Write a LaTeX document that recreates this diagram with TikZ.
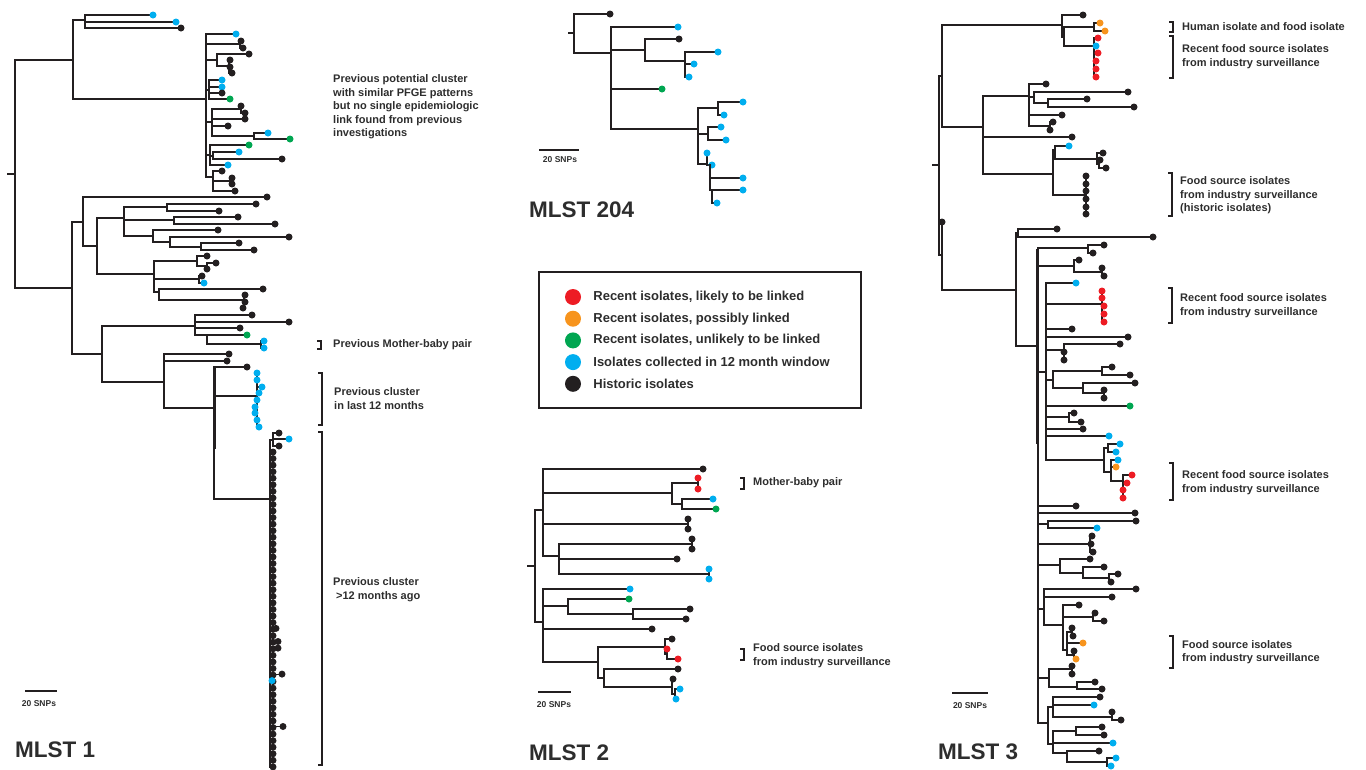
\documentclass[tikz,border=0pt]{standalone}
\usepackage{fontspec}
\setmainfont{Liberation Sans}
\usetikzlibrary{positioning}
\definecolor{Ink}{RGB}{35,31,32}
\definecolor{TextInk}{RGB}{45,45,45}
\definecolor{tRed}{RGB}{237,28,36}
\definecolor{tOrange}{RGB}{247,148,29}
\definecolor{tGreen}{RGB}{0,166,81}
\definecolor{tBlue}{RGB}{0,174,239}
\definecolor{tBlack}{RGB}{35,31,32}
\tikzset{
  branch/.style={draw=Ink, line width=1.1pt, line cap=rect},
  brack/.style={draw=Ink, line width=1.2pt},
  sbar/.style={draw=Ink, line width=2.4pt},
  note/.style={font=\bfseries\fontsize{11}{13.5}\selectfont, text=TextInk, align=left, anchor=west, inner sep=0pt},
  treetitle/.style={font=\bfseries\fontsize{22.5}{24}\selectfont, text=TextInk, anchor=west, inner sep=0pt},
  sbarlab/.style={font=\bfseries\fontsize{8.5}{9}\selectfont, text=TextInk, inner sep=0pt},
  keydot/.style={circle, minimum size=16pt, inner sep=0pt},
  keylab/.style={font=\bfseries\fontsize{13}{15}\selectfont, text=TextInk, anchor=west, inner sep=0pt},
}
% branch helpers: horizontal, vertical, branch ending in an isolate
\newcommand{\hbr}[3]{\draw[branch] (#1,#3) -- (#2,#3);}
\newcommand{\vbr}[3]{\draw[branch] (#1,#2) -- (#1,#3);}
\newcommand{\leaf}[4]{\draw[branch] (#1,#3) -- (#2,#3); \fill[#4] (#2,#3) circle[radius=3.5pt];}
\newcommand{\clbracket}[3]{\draw[brack] (#1-4,#2) -- (#1,#2) -- (#1,#3) -- (#1-4,#3);}

\begin{document}
\begin{tikzpicture}[x=1pt,y=-1pt]
\useasboundingbox (0,0) rectangle (1366,769);

% ---------------- MLST 1 ----------------
\hbr{8}{15}{174}\vbr{15}{60}{288}
\hbr{15}{73}{60}\vbr{73}{20}{99}
\hbr{73}{85}{20}\vbr{85}{15}{28}
\leaf{85}{153}{15}{tBlue}\leaf{85}{176}{22}{tBlue}\leaf{85}{181}{28}{tBlack}
% upper cluster
\hbr{73}{206}{99}\vbr{206}{34}{177}
\leaf{206}{236}{34}{tBlue}
\hbr{206}{240}{44}\vbr{240}{41}{48}\leaf{240}{241}{41}{tBlack}\leaf{240}{243}{48}{tBlack}
\hbr{206}{217}{60}\vbr{217}{54}{66}\leaf{217}{249}{54}{tBlack}
\hbr{217}{229}{66}\vbr{229}{60}{73}\leaf{229}{230}{60}{tBlack}\leaf{229}{230}{67}{tBlack}\leaf{229}{232}{73}{tBlack}
\hbr{206}{209}{90}\vbr{209}{80}{99}
\leaf{209}{222}{80}{tBlue}\leaf{209}{222}{87}{tBlue}\leaf{209}{222}{93}{tBlack}\leaf{209}{230}{99}{tGreen}
\hbr{206}{212}{122}\vbr{212}{109}{136}
\hbr{212}{241}{109}\vbr{241}{106}{113}\leaf{241}{241}{106}{tBlack}\leaf{241}{245}{113}{tBlack}
\leaf{212}{245}{119}{tBlack}\leaf{212}{228}{126}{tBlack}
\hbr{212}{254}{136}\vbr{254}{133}{139}\leaf{254}{268}{133}{tBlue}\leaf{254}{290}{139}{tGreen}
\hbr{206}{210}{155}\vbr{210}{145}{165}\leaf{210}{249}{145}{tGreen}
\hbr{210}{213}{156}\vbr{213}{152}{159}\leaf{213}{239}{152}{tBlue}\leaf{213}{282}{159}{tBlack}
\leaf{210}{228}{165}{tBlue}
\hbr{206}{213}{177}\vbr{213}{171}{191}\leaf{213}{222}{171}{tBlack}
\hbr{213}{230}{181}\vbr{230}{178}{184}\leaf{230}{232}{178}{tBlack}\leaf{230}{232}{184}{tBlack}
\leaf{213}{235}{191}{tBlack}
% lower part
\hbr{15}{72}{288}\vbr{72}{222}{354}
\hbr{72}{83}{222}\vbr{83}{197}{246}
\leaf{83}{267}{197}{tBlack}
\hbr{83}{97}{246}\vbr{97}{218}{274}
\hbr{97}{124}{218}\vbr{124}{207}{236}
\hbr{124}{167}{207}\vbr{167}{204}{211}\leaf{167}{256}{204}{tBlack}\leaf{167}{219}{211}{tBlack}
\hbr{124}{174}{220}\vbr{174}{217}{224}\leaf{174}{238}{217}{tBlack}\leaf{174}{275}{224}{tBlack}
\hbr{124}{153}{236}\vbr{153}{230}{242}\leaf{153}{218}{230}{tBlack}
\hbr{153}{170}{242}\vbr{170}{237}{247}\leaf{170}{289}{237}{tBlack}
\hbr{170}{201}{247}\vbr{201}{243}{250}\leaf{201}{239}{243}{tBlack}\leaf{201}{254}{250}{tBlack}
\hbr{97}{154}{274}\vbr{154}{261}{292}
\hbr{154}{197}{261}\vbr{197}{256}{266}\leaf{197}{207}{256}{tBlack}
\hbr{197}{207}{266}\vbr{207}{263}{269}\leaf{207}{216}{263}{tBlack}\leaf{207}{207}{269}{tBlack}
\hbr{154}{199}{279}\vbr{199}{276}{283}\leaf{199}{202}{276}{tBlack}\leaf{199}{204}{283}{tBlue}
\hbr{154}{159}{292}\vbr{159}{289}{300}\leaf{159}{263}{289}{tBlack}
\hbr{159}{244}{300}\vbr{244}{295}{308}\leaf{244}{245}{295}{tBlack}\leaf{244}{245}{302}{tBlack}\leaf{244}{243}{308}{tBlack}
\hbr{72}{102}{354}\vbr{102}{326}{382}
\hbr{102}{195}{326}\vbr{195}{315}{335}
\leaf{195}{252}{315}{tBlack}\leaf{195}{289}{322}{tBlack}\leaf{195}{240}{328}{tBlack}
\hbr{195}{207}{335}\vbr{207}{335}{344}\leaf{207}{247}{335}{tGreen}
\hbr{207}{261}{344}\vbr{261}{341}{348}\leaf{261}{264}{341}{tBlue}\leaf{261}{264}{348}{tBlue}
\hbr{102}{164}{382}\vbr{164}{354}{408}
\leaf{164}{229}{354}{tBlack}\leaf{164}{227}{361}{tBlack}
\hbr{164}{214}{408}\vbr{214}{367}{499}\vbr{215.3}{367}{448}
\leaf{214}{247}{367}{tBlack}
\hbr{214}{257}{396}\vbr{257}{373}{427}
\foreach \xx/\yy in {257/373,257/380,262/387,259/393,257/400,255/407,255/413,257/420,259/427}
  {\leaf{257}{\xx}{\yy}{tBlue}}
% big cluster
\hbr{214}{270}{499}\vbr{270}{440}{767}
\hbr{270}{273}{440}\vbr{273}{433}{446}
\leaf{273}{279}{433}{tBlack}\leaf{273}{289}{439}{tBlue}\leaf{273}{279}{446}{tBlack}
\foreach \k in {0,...,48}{
  \pgfmathsetmacro\yy{452+6.56*\k}
  \leaf{270}{273}{\yy}{tBlack}
}
\leaf{270}{276}{628.4}{tBlack}\leaf{270}{278}{641.5}{tBlack}\leaf{270}{278}{648.1}{tBlack}
\leaf{270}{282}{674.1}{tBlack}\leaf{270}{272}{680.6}{tBlue}\leaf{270}{283}{726.5}{tBlack}
% labels
\clbracket{321}{341}{349}
\clbracket{322}{373}{425}
\clbracket{322}{432}{765}
\node[note] (potclus) at (333,107) {Previous potential cluster\\with similar PFGE patterns\\but no single epidemiologic\\link found from previous\\investigations};
\node[note] (mbpair1) at (333,345) {Previous Mother-baby pair};
\node[note] (clus12) at (334,398.5) {Previous cluster\\in last 12 months};
\node[note] (clusold) at (333,589.5) {Previous cluster\\\hspace*{3pt}>12 months ago};
\draw[sbar] (25,691) -- (57,691);
\node[sbarlab] (sb1) at (39,704) {20 SNPs};
\node[treetitle] (t1) at (15,750) {MLST 1};

% ---------------- MLST 204 ----------------
\hbr{569}{574}{33}\vbr{574}{14}{53}
\leaf{574}{610}{14}{tBlack}
\hbr{574}{611}{53}\vbr{611}{27}{129}
\leaf{611}{678}{27}{tBlue}
\hbr{611}{645}{50}\vbr{645}{39}{61}\leaf{645}{679}{39}{tBlack}
\hbr{645}{685}{61}\vbr{685}{52}{77}\leaf{685}{718}{52}{tBlue}\leaf{685}{694}{64}{tBlue}\leaf{685}{689}{77}{tBlue}
\leaf{611}{662}{89}{tGreen}
\hbr{611}{698}{129}\vbr{698}{108}{164}
\hbr{698}{718}{108}\vbr{718}{102}{115}\leaf{718}{743}{102}{tBlue}\leaf{718}{724}{115}{tBlue}
\hbr{698}{708}{134}\vbr{708}{127}{140}\leaf{708}{721}{127}{tBlue}\leaf{708}{726}{140}{tBlue}
\hbr{698}{707}{164}\vbr{707}{153}{165}\leaf{707}{707}{153}{tBlue}\leaf{707}{712}{165}{tBlue}
\vbr{710}{165}{190}\leaf{710}{743}{178}{tBlue}
\hbr{710}{712}{190}\vbr{712}{190}{203}\leaf{712}{743}{190}{tBlue}\leaf{712}{717}{203}{tBlue}
\draw[sbar] (539,150) -- (579,150);
\node[sbarlab] (sb204) at (560,160) {20 SNPs};
\node[treetitle] (t204) at (529,210) {MLST 204};

% ---------------- legend ----------------
\node[draw=Ink, line width=2pt, minimum width=322pt, minimum height=136pt] (keybox) at (700,340) {};
\node[keydot, fill=tRed] (kred) at (573,297) {};
\node[keydot, fill=tOrange, below=5.3pt of kred] (korange) {};
\node[keydot, fill=tGreen, below=5.3pt of korange] (kgreen) {};
\node[keydot, fill=tBlue, below=5.3pt of kgreen] (kblue) {};
\node[keydot, fill=tBlack, below=5.3pt of kblue] (kblack) {};
\node[keylab, right=12pt of kred] (lred) {Recent isolates, likely to be linked};
\node[keylab, right=12pt of korange] (lorange) {Recent isolates, possibly linked};
\node[keylab, right=12pt of kgreen] (lgreen) {Recent isolates, unlikely to be linked};
\node[keylab, right=12pt of kblue] (lblue) {Isolates collected in 12 month window};
\node[keylab, right=12pt of kblack] (lblack) {Historic isolates};

% ---------------- MLST 2 ----------------
\hbr{528}{535}{566}\vbr{535}{510}{622}
\hbr{535}{543}{510}\vbr{543}{469}{556}
\leaf{543}{703}{469}{tBlack}
\hbr{543}{672}{493}\vbr{672}{483}{504}
\hbr{672}{698}{483}\vbr{698}{478}{489}\leaf{698}{698}{478}{tRed}\leaf{698}{698}{489}{tRed}
\hbr{672}{682}{504}\vbr{682}{499}{509}\leaf{682}{713}{499}{tBlue}\leaf{682}{716}{509}{tGreen}
\hbr{543}{688}{524}\vbr{688}{519}{529}\leaf{688}{688}{519}{tBlack}\leaf{688}{688}{529}{tBlack}
\hbr{543}{559}{556}\vbr{559}{544}{574}
\hbr{559}{692}{544}\vbr{692}{539}{549}\leaf{692}{692}{539}{tBlack}\leaf{692}{692}{549}{tBlack}
\leaf{559}{677}{559}{tBlack}
\hbr{559}{709}{574}\vbr{709}{569}{579}\leaf{709}{709}{569}{tBlue}\leaf{709}{709}{579}{tBlue}
\hbr{535}{543}{622}\vbr{543}{589}{662}
\leaf{543}{630}{589}{tBlue}
\hbr{543}{568}{606}\vbr{568}{599}{614}\leaf{568}{629}{599}{tGreen}
\hbr{568}{633}{614}\vbr{633}{609}{619}\leaf{633}{690}{609}{tBlack}\leaf{633}{686}{619}{tBlack}
\leaf{543}{652}{629}{tBlack}
\hbr{543}{598}{662}\vbr{598}{647}{678}
\hbr{598}{665}{647}\vbr{665}{639}{654}\leaf{665}{672}{639}{tBlack}
\hbr{665}{667}{654}\vbr{667}{649}{659}\leaf{667}{667}{649}{tRed}\leaf{667}{678}{659}{tRed}
\hbr{598}{604}{678}\vbr{604}{669}{687}\leaf{604}{678}{669}{tBlack}
\hbr{604}{672}{687}\vbr{672}{679}{694}\leaf{672}{673}{679}{tBlack}
\hbr{672}{675}{694}\vbr{675}{689}{699}\leaf{675}{680}{689}{tBlue}\leaf{675}{676}{699}{tBlue}
\clbracket{744}{478}{489}
\clbracket{744}{649}{660}
\node[note] (mbpair2) at (753,483) {Mother-baby pair};
\node[note] (food2) at (753,655.5) {Food source isolates\\from industry surveillance};
\draw[sbar] (538,692) -- (571,692);
\node[sbarlab] (sb2) at (554,705) {20 SNPs};
\node[treetitle] (t2) at (529,753) {MLST 2};

% ---------------- MLST 3 ----------------
\hbr{933}{939}{165}\vbr{939}{76}{255}
\hbr{939}{942}{76}\vbr{942}{25}{127}
\hbr{939}{942}{255}\vbr{942}{222}{290}\leaf{942}{942}{222}{tBlack}
% top clade
\hbr{942}{1062}{25}\vbr{1062}{15}{37}\leaf{1062}{1083}{15}{tBlack}
\hbr{1062}{1064}{37}\vbr{1064}{27}{46}
\hbr{1064}{1094}{27}\vbr{1094}{23}{31}\leaf{1094}{1100}{23}{tOrange}\leaf{1094}{1105}{31}{tOrange}
\hbr{1064}{1094}{46}\vbr{1094}{38}{77}
\leaf{1094}{1098}{38}{tRed}\leaf{1094}{1096}{46}{tBlue}\leaf{1094}{1098}{53}{tRed}
\leaf{1094}{1096}{61}{tRed}\leaf{1094}{1096}{69}{tRed}\leaf{1094}{1096}{77}{tRed}
% second clade
\hbr{942}{983}{127}\vbr{983}{96}{174}
\hbr{983}{1029}{96}\vbr{1029}{84}{126}
\leaf{1029}{1046}{84}{tBlack}
\hbr{1029}{1034}{97}\vbr{1034}{92}{103}\leaf{1034}{1128}{92}{tBlack}
\hbr{1034}{1048}{103}\vbr{1048}{99}{107}\leaf{1048}{1087}{99}{tBlack}\leaf{1048}{1134}{107}{tBlack}
\leaf{1029}{1062}{115}{tBlack}
\hbr{1029}{1050}{126}\vbr{1050}{122}{130}\leaf{1050}{1053}{122}{tBlack}\leaf{1050}{1050}{130}{tBlack}
\leaf{983}{1072}{137}{tBlack}
\hbr{983}{1053}{174}\vbr{1053}{150}{195}
\hbr{1053}{1055}{150}\vbr{1055}{146}{159}\leaf{1055}{1069}{146}{tBlue}
\hbr{1055}{1097}{159}\vbr{1097}{153}{164}\leaf{1097}{1103}{153}{tBlack}
\hbr{1097}{1099}{164}\vbr{1099}{160}{168}\leaf{1099}{1100}{160}{tBlack}\leaf{1099}{1106}{168}{tBlack}
\hbr{1053}{1086}{195}\vbr{1086}{176}{214}
\foreach \yy in {176,184,191,199,207,214}{\leaf{1086}{1086}{\yy}{tBlack}}
% lower clade
\hbr{942}{1016}{290}\vbr{1016}{233}{346}
\hbr{1016}{1018}{233}\vbr{1018}{229}{237}\leaf{1018}{1057}{229}{tBlack}\leaf{1018}{1153}{237}{tBlack}
\hbr{1016}{1038}{346}\vbr{1038}{248}{723}\vbr{1036.8}{250}{443}
\hbr{1038}{1088}{248}\vbr{1088}{245}{253}\leaf{1088}{1104}{245}{tBlack}\leaf{1088}{1093}{253}{tBlack}
\hbr{1038}{1074}{266}\vbr{1074}{260}{272}\leaf{1074}{1079}{260}{tBlack}
\hbr{1074}{1102}{272}\vbr{1102}{268}{276}\leaf{1102}{1102}{268}{tBlack}\leaf{1102}{1104}{276}{tBlack}
\hbr{1038}{1046}{372}\vbr{1046}{283}{460}
\leaf{1046}{1076}{283}{tBlue}
\hbr{1046}{1102}{304}\vbr{1102}{291}{322}
\leaf{1102}{1102}{291}{tRed}\leaf{1102}{1102}{298}{tRed}\leaf{1102}{1104}{306}{tRed}\leaf{1102}{1104}{314}{tRed}\leaf{1102}{1104}{322}{tRed}
\leaf{1046}{1072}{329}{tBlack}
\leaf{1046}{1128}{337}{tBlack}
\hbr{1046}{1064}{350}\vbr{1064}{344}{360}\leaf{1064}{1120}{344}{tBlack}\leaf{1064}{1064}{352}{tBlack}\leaf{1064}{1064}{360}{tBlack}
\hbr{1046}{1053}{380}\vbr{1053}{371}{388}
\hbr{1053}{1102}{371}\vbr{1102}{367}{375}\leaf{1102}{1112}{367}{tBlack}\leaf{1102}{1130}{375}{tBlack}
\hbr{1053}{1083}{388}\vbr{1083}{383}{393}\leaf{1083}{1135}{383}{tBlack}
\hbr{1083}{1104}{393}\vbr{1104}{390}{398}\leaf{1104}{1104}{390}{tBlack}\leaf{1104}{1104}{398}{tBlack}
\leaf{1046}{1130}{406}{tGreen}
\hbr{1046}{1069}{417}\vbr{1069}{413}{422}\leaf{1069}{1074}{413}{tBlack}\leaf{1069}{1081}{422}{tBlack}
\leaf{1046}{1083}{429}{tBlack}
\leaf{1046}{1109}{436}{tBlue}
\hbr{1046}{1104}{460}\vbr{1104}{448}{472}
\hbr{1104}{1108}{448}\vbr{1108}{444}{452}\leaf{1108}{1120}{444}{tBlue}\leaf{1108}{1116}{452}{tBlue}
\hbr{1104}{1111}{472}\vbr{1111}{460}{481}\leaf{1111}{1118}{460}{tBlue}\leaf{1111}{1116}{467}{tOrange}
\hbr{1111}{1123}{481}\vbr{1123}{475}{498}
\leaf{1123}{1132}{475}{tRed}\leaf{1123}{1127}{483}{tRed}\leaf{1123}{1123}{490}{tRed}\leaf{1123}{1123}{498}{tRed}
\leaf{1038}{1076}{506}{tBlack}
\leaf{1038}{1135}{513}{tBlack}
\hbr{1038}{1048}{524}\vbr{1048}{521}{528}\leaf{1048}{1136}{521}{tBlack}\leaf{1048}{1097}{528}{tBlue}
\hbr{1038}{1090}{544}\vbr{1090}{536}{552}\leaf{1090}{1092}{536}{tBlack}\leaf{1090}{1091}{544}{tBlack}\leaf{1090}{1093}{552}{tBlack}
\hbr{1038}{1060}{565}\vbr{1060}{559}{573}\leaf{1060}{1090}{559}{tBlack}
\hbr{1060}{1083}{573}\vbr{1083}{567}{578}\leaf{1083}{1104}{567}{tBlack}
\hbr{1083}{1109}{578}\vbr{1109}{574}{582}\leaf{1109}{1118}{574}{tBlack}\leaf{1109}{1111}{582}{tBlack}
\hbr{1038}{1044}{609}\vbr{1044}{589}{625}
\leaf{1044}{1136}{589}{tBlack}\leaf{1044}{1112}{597}{tBlack}
\hbr{1044}{1063}{625}\vbr{1063}{605}{650}
\leaf{1063}{1079}{605}{tBlack}
\hbr{1063}{1093}{617}\vbr{1093}{613}{621}\leaf{1093}{1095}{613}{tBlack}\leaf{1093}{1104}{621}{tBlack}
\hbr{1063}{1067}{650}\vbr{1067}{632}{655}
\hbr{1067}{1072}{632}\vbr{1072}{628}{636}\leaf{1072}{1072}{628}{tBlack}\leaf{1072}{1073}{636}{tBlack}
\leaf{1067}{1083}{643}{tOrange}
\hbr{1067}{1074}{655}\vbr{1074}{651}{659}\leaf{1074}{1074}{651}{tBlack}\leaf{1074}{1076}{659}{tOrange}
\hbr{1038}{1049}{678}\vbr{1049}{669}{687}
\hbr{1049}{1072}{669}\vbr{1072}{666}{674}\leaf{1072}{1072}{666}{tBlack}\leaf{1072}{1072}{674}{tBlack}
\hbr{1049}{1077}{687}\vbr{1077}{682}{689}\leaf{1077}{1095}{682}{tBlack}\leaf{1077}{1102}{689}{tBlack}
\hbr{1038}{1048}{723}\vbr{1048}{707}{744}
\hbr{1048}{1053}{707}\vbr{1053}{697}{717}\leaf{1053}{1100}{697}{tBlack}\leaf{1053}{1094}{705}{tBlue}
\hbr{1053}{1112}{717}\vbr{1112}{712}{720}\leaf{1112}{1112}{712}{tBlack}\leaf{1112}{1121}{720}{tBlack}
\hbr{1048}{1053}{744}\vbr{1053}{731}{753}
\hbr{1053}{1076}{731}\vbr{1076}{727}{735}\leaf{1076}{1102}{727}{tBlack}\leaf{1076}{1104}{735}{tBlack}
\leaf{1053}{1113}{743}{tBlue}
\hbr{1053}{1067}{753}\vbr{1067}{751}{762}\leaf{1067}{1099}{751}{tBlack}
\hbr{1067}{1107}{762}\vbr{1107}{758}{766}\leaf{1107}{1116}{758}{tBlue}\leaf{1107}{1111}{766}{tBlue}
% labels
\clbracket{1173}{22}{32}
\clbracket{1173}{36}{78}
\clbracket{1172}{173}{216}
\clbracket{1172}{288}{323}
\clbracket{1173}{463}{500}
\clbracket{1173}{636}{668}
\node[note] (humfood) at (1182,27) {Human isolate and food isolate};
\node[note] (recent1) at (1182,56.5) {Recent food source isolates\\from industry surveillance};
\node[note] (histfood) at (1180,195.5) {Food source isolates\\from industry surveillance\\(historic isolates)};
\node[note] (recent2) at (1180,305.5) {Recent food source isolates\\from industry surveillance};
\node[note] (recent3) at (1182,482.5) {Recent food source isolates\\from industry surveillance};
\node[note] (food3) at (1182,652) {Food source isolates\\from industry surveillance};
\draw[sbar] (952,693) -- (988,693);
\node[sbarlab] (sb3) at (970,706) {20 SNPs};
\node[treetitle] (t3) at (938,752) {MLST 3};
\end{tikzpicture}
\end{document}
